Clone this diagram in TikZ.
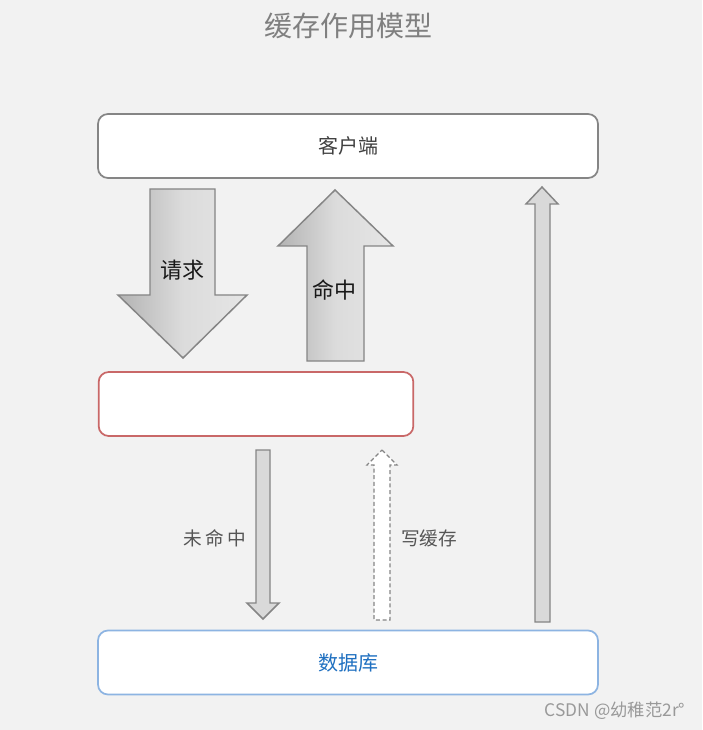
\documentclass[tikz,border=0pt]{standalone}
\usepackage{fontspec}
\newfontfamily\cjk{Noto Sans CJK SC}
\definecolor{bg}{HTML}{F2F2F2}
\definecolor{edge}{HTML}{858585}
\definecolor{cachered}{HTML}{C96868}
\definecolor{dbblue}{HTML}{8DB4E2}
\definecolor{dbtext}{HTML}{1F70C1}
\definecolor{labelgray}{HTML}{555555}
\tikzset{
  box/.style={draw=edge, line width=1.3pt, fill=white, rounded corners=7.5pt, minimum width=375pt, minimum height=48pt, inner sep=0pt, font=\cjk\fontsize{15}{17}\selectfont, text=black!75},
  bigarrow/.style={draw=edge, line width=1.1pt, left color=black!30, right color=black!10, middle color=black!14},
  thinarrow/.style={draw=edge, line width=1.1pt, fill=black!15},
  dasharrow/.style={draw=edge, line width=0.9pt, dashed, dash pattern=on 3pt off 2pt, fill=white},
  lbl/.style={font=\cjk\fontsize{14}{16}\selectfont, text=labelgray},
  biglbl/.style={font=\cjk\fontsize{16.5}{18}\selectfont, text=black!90}
}
\begin{document}
\begin{tikzpicture}[x=0.75pt,y=-0.75pt]
\fill[bg] (0,0) rectangle (702,730);
\useasboundingbox (0,0) rectangle (702,730);

\node[font=\cjk\fontsize{21}{23}\selectfont, text=black!50] (title) at (348,26) {缓存作用模型};

\node[box] (client) at (348,146) {客户端};
\node[box, draw=cachered, minimum width=236pt] (cache) at (256,404) {};
\node[box, draw=dbblue, text=dbtext] (db) at (348,662.5) {数据库};

% request arrow (down)
\draw[bigarrow] (150,189) -- (215,189) -- (215,295) -- (247,295) -- (183,358) -- (118,295) -- (150,295) -- cycle;
\node[biglbl] (req) at (182,270) {请求};

% hit arrow (up)
\draw[bigarrow] (335,190) -- (393,246) -- (364,246) -- (364,361) -- (307,361) -- (307,246) -- (278,246) -- cycle;
\node[biglbl] (hit) at (334,290) {命中};

% miss arrow (down)
\draw[thinarrow] (256,450) -- (270,450) -- (270,603) -- (279,603) -- (263,619) -- (247,603) -- (256,603) -- cycle;
\node[lbl] (miss) at (215,538) {未\,命\,中};

% write cache arrow (dashed, up)
\draw[dasharrow] (382,450) -- (397,465) -- (390,465) -- (390,620) -- (374,620) -- (374,465) -- (367,465) -- cycle;
\node[lbl] (write) at (429,538) {写缓存};

% right long arrow (up)
\draw[thinarrow] (542,187) -- (558,204) -- (550,204) -- (550,622) -- (535,622) -- (535,204) -- (526,204) -- cycle;

\node[font=\cjk\fontsize{13}{15}\selectfont, text=black!40, anchor=east] (wm) at (690,711) {CSDN @幼稚范2r°};
\end{tikzpicture}
\end{document}
